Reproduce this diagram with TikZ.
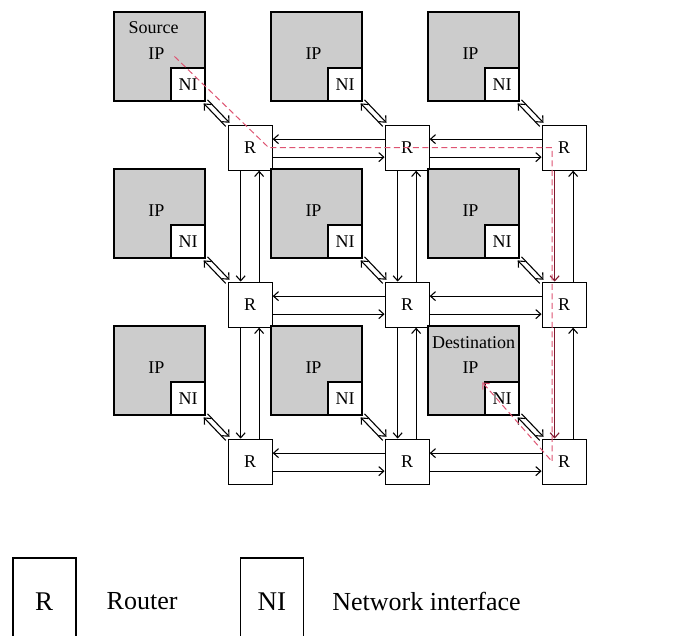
\documentclass[tikz,border=0pt]{standalone}
\usepackage{fontspec}
\setmainfont{Liberation Serif}
\usepackage{xcolor}
\usepackage{tikz}
\usetikzlibrary{arrows.meta,positioning,calc}
\definecolor{ipgray}{RGB}{204,204,204}
\definecolor{routepink}{RGB}{222,84,114}
\definecolor{routedark}{RGB}{128,24,46}

\begin{document}
\begin{tikzpicture}[x=1pt,y=-1pt,
    font=\fontsize{18}{20}\selectfont,
    >={Straight Barb[length=5pt,width=9pt]},
    ip/.style={draw,line width=1.2pt,fill=ipgray,minimum width=91pt,minimum height=89pt,inner sep=0pt},
    ni/.style={draw,line width=1.2pt,fill=white,minimum width=34pt,minimum height=33pt,inner sep=0pt},
    router/.style={draw,line width=1.1pt,fill=white,minimum width=44pt,minimum height=45pt,inner sep=0pt},
    iptext/.style={inner sep=0pt},
    link/.style={line width=1.1pt},
    route/.style={->,routepink,line width=1pt,dash pattern=on 6pt off 3.5pt},
    legbox/.style={draw,line width=1.5pt,minimum width=63pt,minimum height=87pt,inner sep=0pt,
      font=\fontsize{27}{30}\selectfont},
    legtext/.style={inner sep=0pt,font=\fontsize{26}{30}\selectfont}
  ]
    \useasboundingbox (0,0) rectangle (683,636);
    % IP cores, network interfaces and routers
    \foreach \col in {0,1,2}{
      \foreach \row in {0,1,2}{
        \node[ip] (ip\col\row) at ({159.5+157*\col},{56.5+157*\row}) {};
        \node[iptext] (ipt\col\row) at ($(ip\col\row.center)+(-3,-3)$) {IP};
        \node[ni,anchor=south east] (ni\col\row) at (ip\col\row.south east) {NI};
        \node[router,below right=23pt and 22pt of ip\col\row] (r\col\row) {R};
        \draw[link,<-] ([shift={(-1.9,1.8)}]ni\col\row.south east) -- ([shift={(-1.9,1.8)}]r\col\row.north west);
        \draw[link,->] ([shift={(1.9,-1.8)}]ni\col\row.south east) -- ([shift={(1.9,-1.8)}]r\col\row.north west);
      }
    }
    \node[iptext] (srclbl) at ($(ip00.center)+(-6,-29)$) {Source};
    \node[iptext] (dstlbl) at ($(ip22.center)+(0,-28)$) {Destination};
    % router to router links
    \foreach \col/\nxt in {0/1,1/2}{
      \foreach \row in {0,1,2}{
        \draw[link,<-] ([yshift=8.5pt]r\col\row.east) -- ([yshift=8.5pt]r\nxt\row.west);
        \draw[link,->] ([yshift=-9.5pt]r\col\row.east) -- ([yshift=-9.5pt]r\nxt\row.west);
      }
    }
    \foreach \row/\nxt in {0/1,1/2}{
      \foreach \col/\clr in {0/black,1/black,2/routedark}{
        \draw[link,->,\clr] ([xshift=-9.5pt]r\col\row.south) -- ([xshift=-9.5pt]r\col\nxt.north);
        \draw[link,<-] ([xshift=9pt]r\col\row.south) -- ([xshift=9pt]r\col\nxt.north);
      }
    }
    % route from source to destination
    \coordinate (srcpt) at ($(ni00.north west)+(4,-11)$);
    \draw[route] (srcpt) -- ([xshift=-4pt]r00.east) -- ([xshift=-12pt]r20.center)
      -- ([xshift=-12pt]r22.center) -- ([shift={(-2,1)}]ni22.north west);
    % legend
    \node[legbox,anchor=north west] (legR) at (12,557) {R};
    \node[legtext,right=30pt of legR] (legRtxt) {Router};
    \node[legbox,right=62pt of legRtxt] (legNI) {NI};
    \node[legtext,right=28pt of legNI] (legNItxt) {Network interface};
  \end{tikzpicture}
\end{document}
